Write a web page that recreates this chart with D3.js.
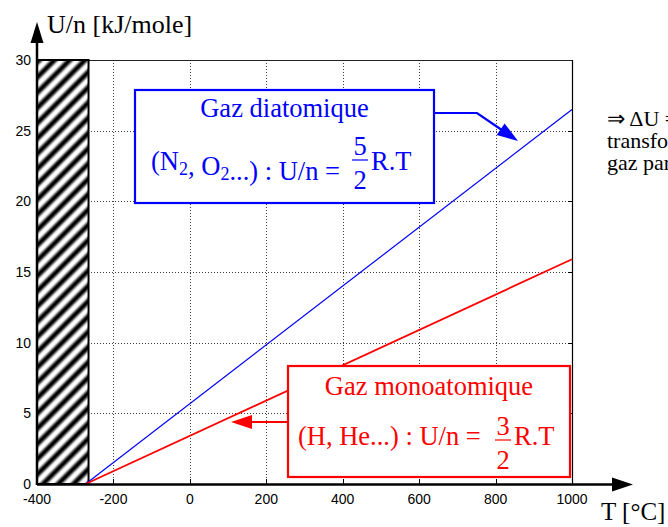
<!DOCTYPE html>
<html>
<head>
<meta charset="utf-8">
<script src="https://cdn.jsdelivr.net/npm/d3@7/dist/d3.min.js"></script>
<style>
	html, body { margin: 0; padding: 0; background: #fff; overflow: hidden; }
	.tick-label { font-family: 'Liberation Sans', Arial, sans-serif; font-size: 14px; fill: #000; }
	.serif { font-family: 'Liberation Serif', 'Times New Roman', serif; }
	.gridline { stroke: #000; stroke-width: 1; stroke-dasharray: 1,2; opacity: 0.75; }
</style>
</head>
<body>
<script>
// data
const tempC = [-273, 1000]
const uDiatomic = [0, 26.5]
const uMonoatomic = [0, 15.9]
const xTicks = [-400, -200, 0, 200, 400, 600, 800, 1000]
const yTicks = [0, 5, 10, 15, 20, 25, 30]
const solidZone = [-400, -273]

const width = 668
const height = 527

const svg = d3.select('body')
	.append('svg')
	.attr('width', width)
	.attr('height', height)

const x = d3.scaleLinear().domain([-400, 1000]).range([37, 572])
const y = d3.scaleLinear().domain([0, 30]).range([484, 60])

const defs = svg.append('defs')

const grad = defs.append('linearGradient')
	.attr('id', 'stripeGrad')
	.attr('x1', 0).attr('x2', 1).attr('y1', 0).attr('y2', 0)
;[[0, '#fff'], [0.12, '#fff'], [0.42, '#000'], [0.58, '#000'], [0.88, '#fff'], [1, '#fff']]
	.forEach(([o, c]) => grad.append('stop').attr('offset', o).attr('stop-color', c))

const hatch = defs.append('pattern')
	.attr('id', 'hatch')
	.attr('patternUnits', 'userSpaceOnUse')
	.attr('width', 10.8)
	.attr('height', 10.8)
	.attr('patternTransform', 'rotate(45)')

hatch.append('rect')
	.attr('width', 10.8)
	.attr('height', 10.8)
	.attr('fill', 'url(#stripeGrad)')

// grid
const grid = svg.append('g')

grid.selectAll('.gx')
	.data(xTicks.filter(d => d > -400 && d < 1000))
	.enter()
	.append('line')
	.attr('class', 'gridline')
	.attr('x1', d => Math.round(x(d)) + 0.5)
	.attr('x2', d => Math.round(x(d)) + 0.5)
	.attr('y1', y(30))
	.attr('y2', y(0))

grid.selectAll('.gy')
	.data(yTicks.filter(d => d > 0 && d < 30))
	.enter()
	.append('line')
	.attr('class', 'gridline')
	.attr('x1', x(-400))
	.attr('x2', x(1000))
	.attr('y1', d => Math.round(y(d)) + 0.5)
	.attr('y2', d => Math.round(y(d)) + 0.5)

// box top & right
svg.append('line')
	.attr('x1', x(-400)).attr('x2', x(1000))
	.attr('y1', y(30) + 0.5).attr('y2', y(30) + 0.5)
	.attr('stroke', '#222').attr('stroke-width', 1)

svg.append('line')
	.attr('x1', x(1000) + 0.5).attr('x2', x(1000) + 0.5)
	.attr('y1', y(30)).attr('y2', y(0))
	.attr('stroke', '#000').attr('stroke-width', 1.2)

// small inner ticks
const tickG = svg.append('g').attr('stroke', '#000').attr('stroke-width', 1)
xTicks.filter(d => d > -273 && d < 1000).forEach(d => {
	tickG.append('line')
		.attr('x1', Math.round(x(d)) + 0.5).attr('x2', Math.round(x(d)) + 0.5)
		.attr('y1', y(0)).attr('y2', y(0) - 5)
})
yTicks.filter(d => d > 0 && d < 30).forEach(d => {
	tickG.append('line')
		.attr('x1', x(1000)).attr('x2', x(1000) - 4)
		.attr('y1', Math.round(y(d)) + 0.5).attr('y2', Math.round(y(d)) + 0.5)
})

// hatched forbidden zone (below absolute zero)
svg.append('rect')
	.attr('x', x(solidZone[0]))
	.attr('y', y(30))
	.attr('width', x(solidZone[1]) - x(solidZone[0]) + 3)
	.attr('height', y(0) - y(30))
	.attr('fill', 'url(#hatch)')
	.attr('stroke', '#000')
	.attr('stroke-width', 2)

// data lines
const line = d3.line().x(d => x(d[0])).y(d => y(d[1]))

svg.append('path')
	.datum(tempC.map((t, i) => [t, uDiatomic[i]]))
	.attr('d', line)
	.attr('fill', 'none')
	.attr('stroke', '#0000ff')
	.attr('stroke-width', 1.2)

svg.append('path')
	.datum(tempC.map((t, i) => [t, uMonoatomic[i]]))
	.attr('d', line)
	.attr('fill', 'none')
	.attr('stroke', '#ff0000')
	.attr('stroke-width', 1.8)

// axes with arrows
svg.append('line')
	.attr('x1', x(-400)).attr('x2', 614)
	.attr('y1', y(0) + 0.5).attr('y2', y(0) + 0.5)
	.attr('stroke', '#000').attr('stroke-width', 2.5)
svg.append('path')
	.attr('d', `M633,${y(0) + 0.5} L612,${y(0) - 6.5} L612,${y(0) + 7.5} Z`)
	.attr('fill', '#000')

svg.append('line')
	.attr('x1', x(-400)).attr('x2', x(-400))
	.attr('y1', y(0) + 1).attr('y2', 42)
	.attr('stroke', '#000').attr('stroke-width', 2.5)
svg.append('path')
	.attr('d', `M${x(-400)},22 L${x(-400) - 6.5},43 L${x(-400) + 6.5},43 Z`)
	.attr('fill', '#000')

// tick labels
svg.selectAll('.xl')
	.data(xTicks)
	.enter()
	.append('text')
	.attr('class', 'tick-label')
	.attr('x', d => x(d))
	.attr('y', 504)
	.attr('text-anchor', 'middle')
	.text(d => d)

svg.selectAll('.yl')
	.data(yTicks)
	.enter()
	.append('text')
	.attr('class', 'tick-label')
	.attr('x', 31)
	.attr('y', d => y(d) + 5)
	.attr('text-anchor', 'end')
	.text(d => d)

// axis titles
svg.append('text')
	.attr('class', 'serif')
	.attr('x', 47).attr('y', 33)
	.style('font-size', '26px')
	.text('U/n [kJ/mole]')

svg.append('text')
	.attr('class', 'serif')
	.attr('x', 601).attr('y', 520)
	.style('font-size', '25px')
	.text('T [°C]')

// annotation boxes
const annot = (o) => {
	const g = svg.append('g')
	g.append('rect')
		.attr('x', o.box[0]).attr('y', o.box[1])
		.attr('width', o.box[2] - o.box[0]).attr('height', o.box[3] - o.box[1])
		.attr('fill', '#fff')
		.attr('stroke', o.color).attr('stroke-width', 2.2)
	g.append('text')
		.attr('class', 'serif')
		.attr('x', (o.box[0] + o.box[2]) / 2).attr('y', o.titleY)
		.attr('text-anchor', 'middle')
		.style('font-size', o.fs + 'px')
		.attr('fill', o.color)
		.text(o.title)
	const t = g.append('text')
		.attr('class', 'serif')
		.attr('x', o.lineX).attr('y', o.lineY)
		.style('font-size', o.fs + 'px')
		.attr('fill', o.color)
		.attr('xml:space', 'preserve')
		.style('white-space', 'pre')
	o.parts.forEach(p => {
		if(typeof p === 'object') {
			t.append('tspan').attr('dy', 5).style('font-size', (o.fs * 0.68) + 'px').text(p.sub)
			t.append('tspan').attr('dy', -5).text('')
		} else {
			t.append('tspan').text(p)
		}
	})
	g.append('text')
		.attr('class', 'serif')
		.attr('x', o.fracX).attr('y', o.barY - 5)
		.attr('text-anchor', 'middle')
		.style('font-size', o.fs + 'px')
		.attr('fill', o.color)
		.text(o.num)
	g.append('line')
		.attr('x1', o.fracX - 8).attr('x2', o.fracX + 8)
		.attr('y1', o.barY).attr('y2', o.barY)
		.attr('stroke', o.color).attr('stroke-width', 1.2)
	g.append('text')
		.attr('class', 'serif')
		.attr('x', o.fracX).attr('y', o.barY + 29)
		.attr('text-anchor', 'middle')
		.style('font-size', o.fs + 'px')
		.attr('fill', o.color)
		.text(o.den)
	g.append('text')
		.attr('class', 'serif')
		.attr('x', o.fracX + 11).attr('y', o.lineY)
		.style('font-size', o.fs + 'px')
		.attr('fill', o.color)
		.text('R.T')
	// arrow: polyline up to the base of the head, then the head
	const a = o.arrow[o.arrow.length - 1]
	const b = o.tip
	const dx = b[0] - a[0], dy = b[1] - a[1]
	const len = Math.sqrt(dx * dx + dy * dy)
	const ux = dx / len, uy = dy / len
	const bx = b[0] - 21 * ux, by = b[1] - 21 * uy
	g.append('path')
		.attr('d', d3.line()(o.arrow.concat([[bx + ux, by + uy]])))
		.attr('fill', 'none')
		.attr('stroke', o.color).attr('stroke-width', 2.2)
	g.append('path')
		.attr('d', `M${b[0]},${b[1]} L${bx - 7 * uy},${by + 7 * ux} L${bx + 7 * uy},${by - 7 * ux} Z`)
		.attr('fill', o.color)
}

annot({
	color: '#0000ff',
	box: [135, 90, 434, 203],
	title: 'Gaz diatomique',
	titleY: 117,
	fs: 26.5,
	lineX: 151, lineY: 170,
	parts: ['(N', {sub: '2'}, ', O', {sub: '2'}, '...) : U/n = '],
	fracX: 360, barY: 160, num: '5', den: '2',
	arrow: [[434, 113], [477, 113]],
	tip: [518, 141]
})

annot({
	color: '#ff0000',
	box: [288, 366, 570, 477],
	title: 'Gaz monoatomique',
	titleY: 395,
	fs: 26.5,
	lineX: 298, lineY: 445,
	parts: ['(H, He...) : U/n = '],
	fracX: 503, barY: 440, num: '3', den: '2',
	arrow: [[288, 422]],
	tip: [231, 422]
})

// text running off the right edge
const side = svg.append('text')
	.attr('class', 'serif')
	.style('font-size', '22px')
	.attr('fill', '#000')
;['⇒ ΔU = n.Cv.ΔT', 'transformation', 'gaz parfait'].forEach((s, i) => {
	side.append('tspan').attr('x', 607).attr('y', 126 + i * 22).text(s)
})
</script>
</body>
</html>
